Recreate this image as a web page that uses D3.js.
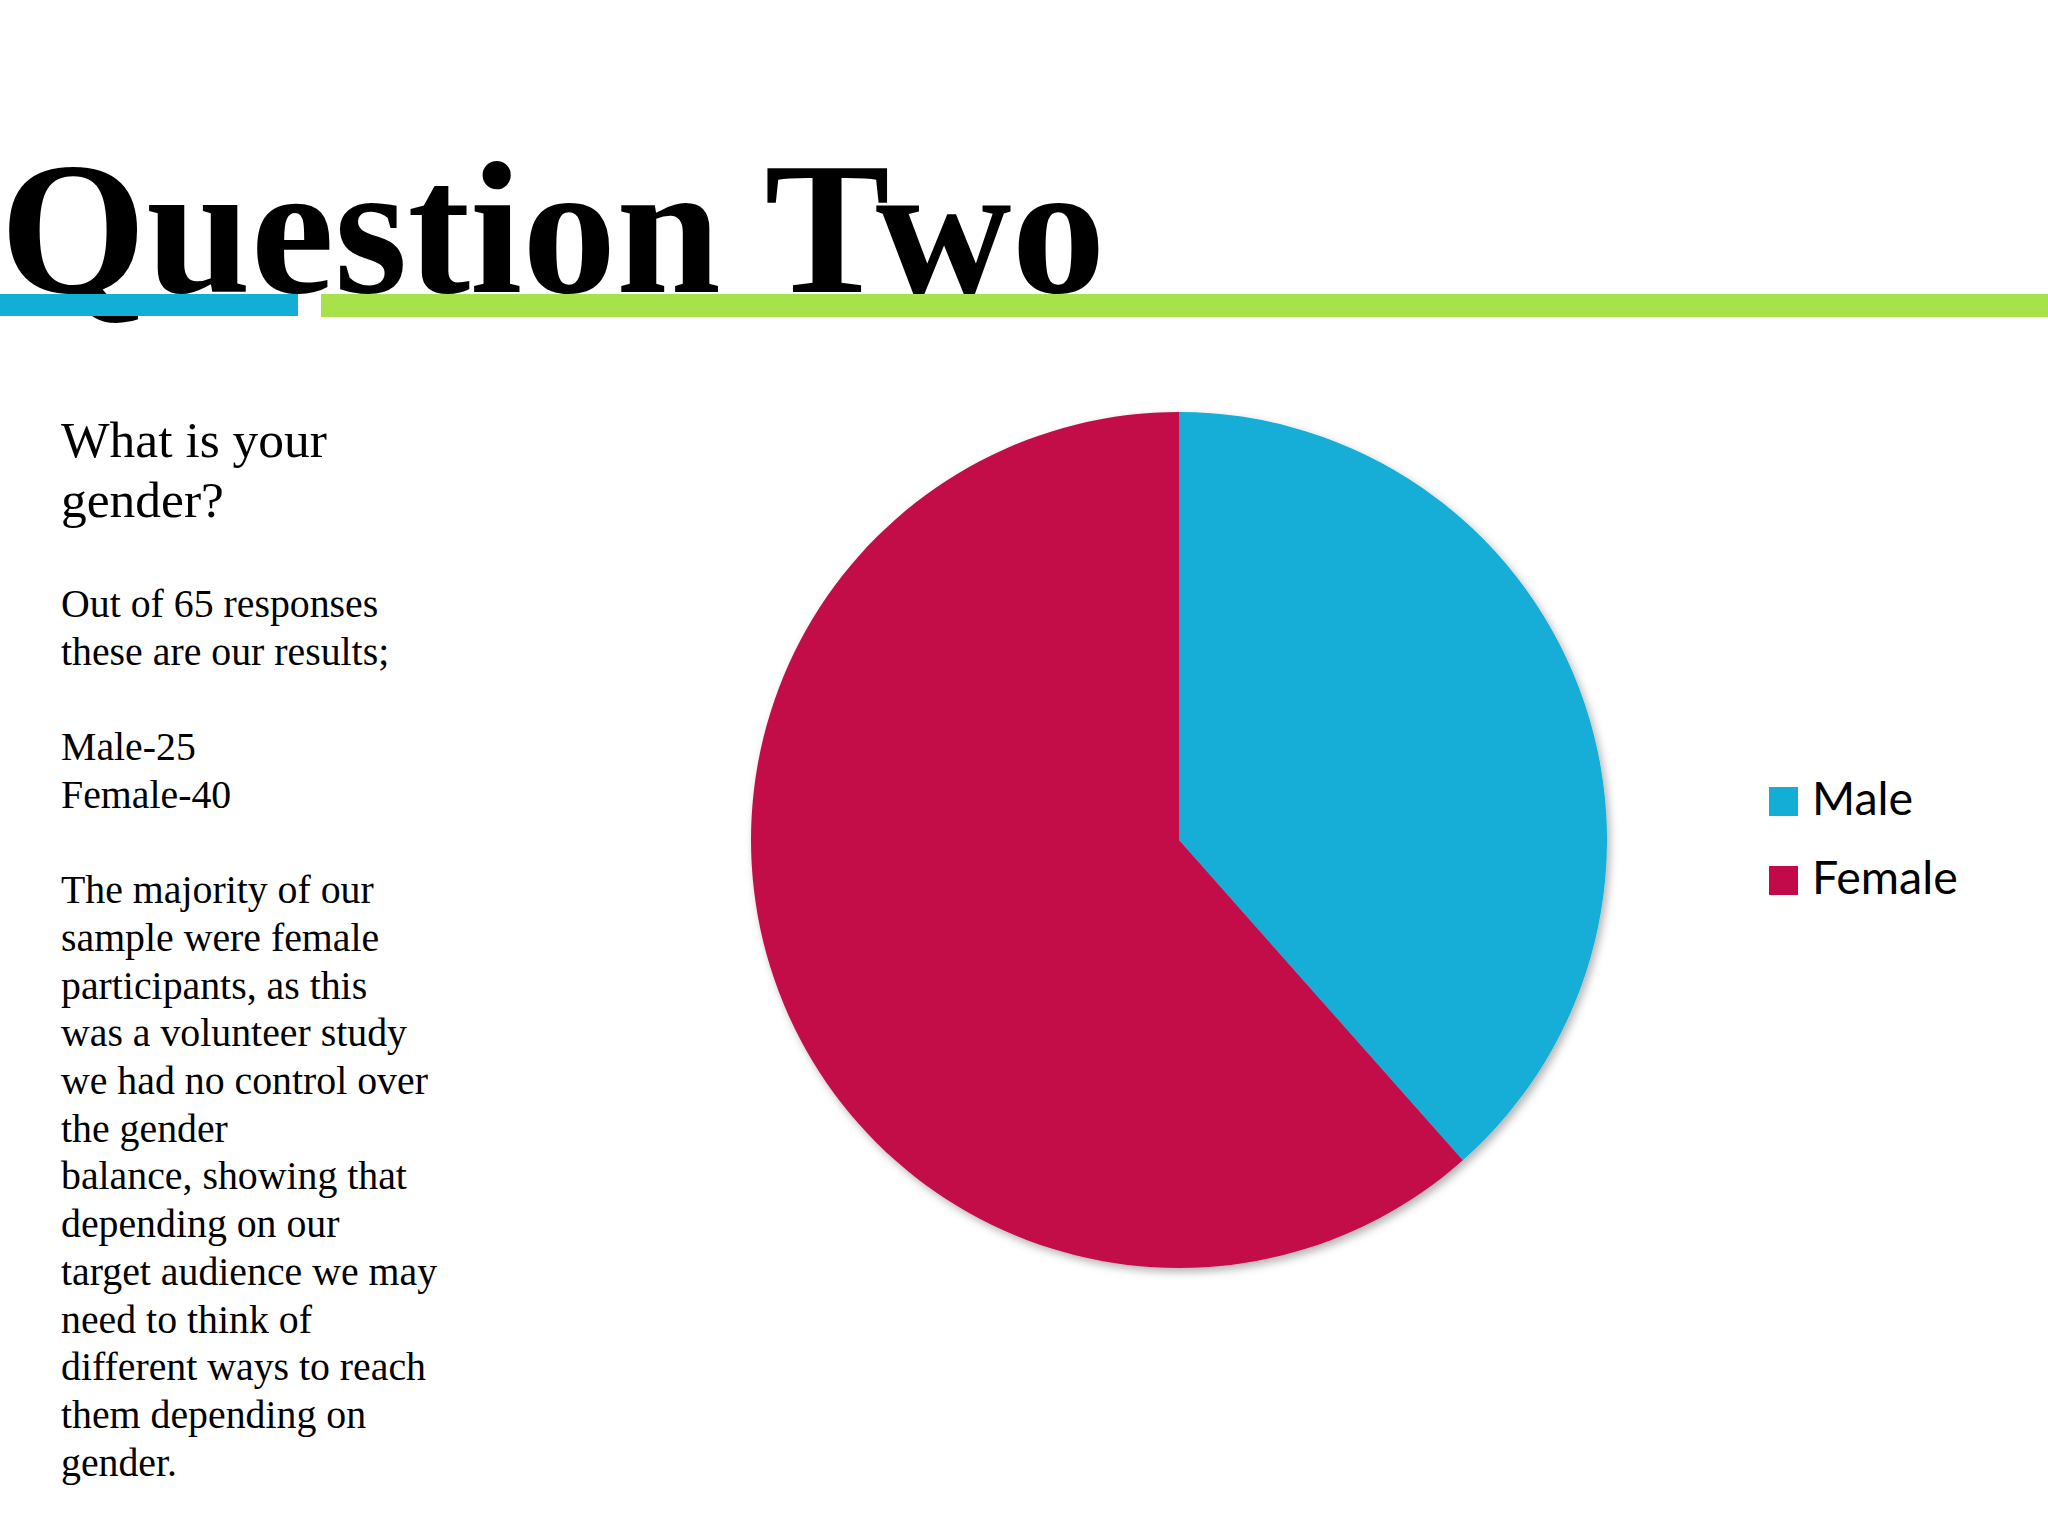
<!DOCTYPE html>
<html>
<head>
<meta charset="utf-8">
<script src="https://cdn.jsdelivr.net/npm/d3@7"></script>
<style>
  html, body { margin: 0; padding: 0; background: #fff; }
  svg { display: block; }
</style>
</head>
<body>
<svg id="chart" width="2048" height="1536"></svg>
<script>
// data
const categories = ['Male', 'Female'];
const counts = [25, 40];
const colors = ['#13aed6', '#c20a4a'];

const headingLines = ['What is your', 'gender?'];
const bodyLines = [
  'Out of 65 responses',
  'these are our results;',
  '',
  'Male-25',
  'Female-40',
  '',
  'The majority of our',
  'sample were female',
  'participants, as this',
  'was a volunteer study',
  'we had no control over',
  'the gender',
  'balance, showing that',
  'depending on our',
  'target audience we may',
  'need to think of',
  'different ways to reach',
  'them depending on',
  'gender.'
];

const svg = d3.select('#chart');
const W = 2048, H = 1536;

svg.append('rect').attr('width', W).attr('height', H).attr('fill', '#fff');

// title
svg.append('text')
  .attr('x', 0)
  .attr('y', 292)
  .attr('font-family', '"Liberation Serif", "Times New Roman", serif')
  .attr('font-weight', 'bold')
  .attr('font-size', 188)
  .attr('fill', '#000')
  .text('Question Two');

// title underline bars sit on top of the title
svg.append('rect')
  .attr('x', 0).attr('y', 294)
  .attr('width', 298).attr('height', 22)
  .attr('fill', '#13aed6');
svg.append('rect')
  .attr('x', 321).attr('y', 294)
  .attr('width', W - 321).attr('height', 23)
  .attr('fill', '#a8e24a');

// left text
const serif = '"Liberation Serif", "Times New Roman", serif';
svg.append('g')
  .selectAll('text')
  .data(headingLines)
  .join('text')
  .attr('x', 61)
  .attr('y', (d, i) => 457 + i * 60)
  .attr('font-family', serif)
  .attr('font-size', 51.5)
  .attr('fill', '#000')
  .text(d => d);

svg.append('g')
  .selectAll('text')
  .data(bodyLines)
  .join('text')
  .attr('x', 61)
  .attr('y', (d, i) => 617 + i * 47.7)
  .attr('font-family', serif)
  .attr('font-size', 39.8)
  .attr('fill', '#000')
  .text(d => d);

// pie
const defs = svg.append('defs');
const filter = defs.append('filter')
  .attr('id', 'shadow')
  .attr('x', '-10%').attr('y', '-10%')
  .attr('width', '120%').attr('height', '120%');
filter.append('feDropShadow')
  .attr('dx', 3).attr('dy', 4)
  .attr('stdDeviation', 4)
  .attr('flood-color', '#000')
  .attr('flood-opacity', 0.3);

const cx = 1179, cy = 840, radius = 428;
const pie = d3.pie().sort(null).value(d => d.value);
const arc = d3.arc().innerRadius(0).outerRadius(radius);
const pieData = pie(categories.map((c, i) => ({ name: c, value: counts[i] })));

const color = d3.scaleOrdinal().domain(categories).range(colors);

svg.append('g')
  .attr('transform', 'translate(' + cx + ',' + cy + ')')
  .attr('filter', 'url(#shadow)')
  .selectAll('path')
  .data(pieData)
  .join('path')
  .attr('d', arc)
  .attr('fill', d => color(d.data.name));

// legend
const legendY = d3.scalePoint().domain(categories).range([787, 866]);
const legend = svg.append('g')
  .selectAll('g')
  .data(categories)
  .join('g')
  .attr('transform', d => 'translate(1769,' + legendY(d) + ')');
legend.append('rect')
  .attr('width', 29).attr('height', 29)
  .attr('fill', d => color(d));
legend.append('text')
  .attr('x', 43)
  .attr('y', 28)
  .attr('font-family', 'Lato, "Open Sans", sans-serif')
  .attr('font-size', 46.5)
  .attr('fill', '#000')
  .text(d => d);
</script>
</body>
</html>
